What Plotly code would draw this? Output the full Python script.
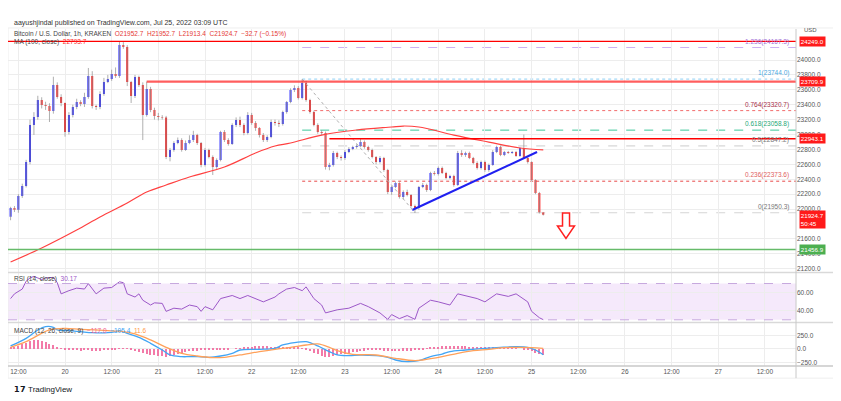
import pandas as pd
import plotly.graph_objects as go
from plotly.subplots import make_subplots

# BTC/USD 1h KRAKEN, first candle Jul 19 2022 10:00 UTC
START = pd.Timestamp('2022-07-19 10:00')
X_RANGE = ['2022-07-19 09:20', '2022-07-27 20:00']

opens = [21897, 22014, 21990, 22175, 22309, 22631, 23128, 23235, 23463, 23396,
         23383, 23316, 23665, 23503, 23423, 23034, 23262, 23369, 23436, 23410,
         23503, 23785, 23383, 23369, 23544, 23705, 23745, 23812, 23785, 24201,
         24174, 23705, 23517, 23772, 23665, 23262, 23611, 23329, 23248, 23235,
         23228, 22698, 22792, 22886, 22926, 22792, 22886, 22926, 22993, 22886,
         22591, 22792, 22698, 22564, 22658, 23034, 22926, 22873, 23128, 23195,
         23128, 23020, 23262, 23155, 23087, 22993, 22926, 22967, 23168, 23155,
         23141, 23302, 23436, 23597, 23624, 23490, 23692, 23463, 23302, 23128,
         23034, 23020, 22564, 22591, 22752, 22698, 22685, 22765, 22806, 22832,
         22846, 22899, 22832, 22792, 22698, 22631, 22685, 22524, 22228, 22295,
         22349, 22161, 22228, 22188, 22041, 22014, 22295, 22322, 22255, 22483,
         22470, 22550, 22483, 22416, 22443, 22322, 22752, 22725, 22752, 22685,
         22618, 22550, 22631, 22524, 22591, 22765, 22832, 22725, 22765, 22752,
         22765, 22712, 22819, 22685, 22631, 22389, 22215, 21952.7]
highs = [22030, 22040, 22200, 22340, 22660, 23200, 23300, 23520, 23500, 23440,
         23420, 23776, 23700, 23540, 23430, 23300, 23400, 23480, 23460, 23560,
         23893, 23850, 23400, 23580, 23760, 23800, 23870, 23900, 24249, 24240,
         24200, 23720, 23800, 23790, 23700, 23710, 23640, 23360, 23290, 23260,
         23250, 22820, 22910, 22960, 22950, 22920, 22990, 23050, 23010, 22900,
         22820, 22810, 22720, 22680, 23050, 23060, 22950, 23150, 23230, 23240,
         23150, 23300, 23290, 23180, 23100, 23020, 22990, 23200, 23200, 23190,
         23320, 23450, 23620, 23660, 23650, 23744, 23720, 23480, 23320, 23150,
         23060, 23040, 22620, 22780, 22770, 22720, 22790, 22830, 22850, 22870,
         22943, 22920, 22850, 22810, 22710, 22710, 22700, 22540, 22310, 22370,
         22360, 22250, 22260, 22200, 22060, 22310, 22350, 22340, 22500, 22510,
         22570, 22570, 22500, 22460, 22460, 22780, 22790, 22770, 22770, 22700,
         22640, 22650, 22650, 22610, 22790, 22850, 22850, 22780, 22780, 22780,
         22780, 22830, 23000, 22700, 22640, 22400, 22230, 21952.7]
lows = [21850, 21960, 21950, 22150, 22290, 22600, 22994, 23200, 23350, 23330,
        23168, 23280, 23480, 23380, 22971, 23000, 23230, 23340, 23380, 23370,
        23480, 23350, 23330, 23340, 23520, 23690, 23720, 23760, 23760, 24150,
        23650, 23423, 23490, 23640, 22926, 23240, 23300, 23200, 23190, 23200,
        22670, 22640, 22770, 22870, 22770, 22780, 22870, 22900, 22860, 22560,
        22570, 22680, 22457, 22540, 22640, 22900, 22850, 22860, 23100, 23100,
        22990, 23000, 23130, 23050, 22960, 22900, 22900, 22950, 23120, 23100,
        23120, 23280, 23420, 23570, 23470, 23470, 23440, 23280, 23110, 23010,
        22990, 22530, 22520, 22570, 22670, 22650, 22660, 22750, 22790, 22810,
        22830, 22810, 22770, 22680, 22600, 22610, 22500, 22200, 22190, 22280,
        22140, 22130, 22170, 22020, 21950, 21990, 22280, 22230, 22240, 22450,
        22450, 22470, 22400, 22400, 22300, 22310, 22700, 22700, 22670, 22600,
        22530, 22530, 22500, 22500, 22580, 22750, 22710, 22710, 22740, 22740,
        22700, 22700, 22670, 22610, 22370, 22200, 21940, 21913.4]
closes = [22014, 21990, 22175, 22309, 22631, 23128, 23235, 23463, 23396, 23383,
          23316, 23665, 23503, 23423, 23034, 23262, 23369, 23436, 23410, 23503,
          23785, 23383, 23369, 23544, 23705, 23745, 23812, 23785, 24201, 24174,
          23705, 23517, 23772, 23665, 23262, 23611, 23329, 23248, 23235, 23228,
          22698, 22792, 22886, 22926, 22792, 22886, 22926, 22993, 22886, 22591,
          22792, 22698, 22564, 22658, 23034, 22926, 22873, 23128, 23195, 23128,
          23020, 23262, 23155, 23087, 22993, 22926, 22967, 23168, 23155, 23141,
          23302, 23436, 23597, 23624, 23490, 23692, 23463, 23302, 23128, 23034,
          23020, 22564, 22591, 22752, 22698, 22685, 22765, 22806, 22832, 22846,
          22899, 22832, 22792, 22698, 22631, 22685, 22524, 22228, 22295, 22349,
          22161, 22228, 22188, 22041, 22014, 22295, 22322, 22255, 22483, 22470,
          22550, 22483, 22416, 22443, 22322, 22752, 22725, 22752, 22685, 22618,
          22550, 22631, 22524, 22591, 22765, 22832, 22725, 22765, 22752, 22765,
          22712, 22819, 22685, 22631, 22389, 22215, 21957.4, 21924.7]

# MA(100), hour offset -> value
ma_hours = [0, 8, 17, 23, 30, 35, 40, 46, 55, 63, 68, 72, 80, 89, 98, 101, 105, 114, 123, 131, 137]
ma_values = [21289, 21477, 21718, 21893, 22081, 22228, 22322, 22430, 22564, 22752, 22846,
             22886, 22993, 23061, 23101, 23114, 23101, 22993, 22899, 22819, 22794]

rsi_hours = [0, 1, 3, 4, 5, 6, 7, 8, 9, 10, 11, 12, 13, 15, 17, 19, 20, 22, 24, 26, 28, 29,
             30, 32, 33, 34, 36, 37, 39, 40, 42, 44, 46, 48, 49, 50, 52, 54, 57, 59, 61, 65,
             68, 69, 71, 73, 75, 76, 78, 80, 81, 84, 87, 90, 92, 95, 97, 98, 100, 102, 104,
             105, 108, 110, 113, 115, 117, 120, 122, 125, 128, 130, 133, 134, 136, 137]
rsi_values = [53.4, 58.6, 63.9, 72.6, 76.1, 77.9, 76.1, 74.4, 76.1, 76.1, 76.8, 70.9, 58.6,
              62.1, 64.9, 63.9, 69.9, 58.6, 64.9, 65.6, 71.9, 70.9, 58.6, 55.1, 58.6, 51.6,
              46.3, 48.7, 48.1, 39.3, 42.8, 41.8, 46.3, 44.5, 39.3, 44.5, 41.0, 53.4, 56.8,
              53.4, 56.8, 49.8, 55.1, 58.6, 63.9, 65.6, 62.1, 66.3, 53.4, 46.3, 37.6, 41.0,
              42.8, 48.1, 44.5, 37.6, 30.5, 35.8, 31.3, 34.7, 30.5, 42.8, 51.6, 49.8, 46.3,
              58.6, 56.8, 53.4, 49.8, 58.6, 55.8, 58.6, 49.8, 39.3, 32.3, 30.17]

macd_hours = [0, 4, 7, 9, 11, 12, 15, 18, 21, 25, 27, 28, 30, 33, 36, 39, 41, 44, 46, 48, 51,
              54, 57, 59, 64, 68, 70, 73, 76, 77, 79, 82, 84, 87, 90, 94, 97, 99, 102, 105,
              108, 111, 113, 117, 122, 126, 130, 133, 135, 137]
macd_values = [56, 197, 352, 413, 401, 352, 340, 321, 302, 302, 321, 340, 290, 216, 105, -19,
               -111, -142, -142, -142, -154, -130, -80, -19, -6, 12, 74, 117, 136, 117, 56,
               -49, -111, -123, -111, -123, -154, -204, -235, -216, -142, -93, -49, -19, 12,
               31, 43, 31, -19, -105.4]
signal_hours = [0, 4, 10, 14, 18, 25, 29, 32, 36, 40, 44, 48, 52, 55, 59, 64, 68, 72, 76, 79,
                82, 84, 88, 94, 99, 104, 106, 111, 115, 119, 123, 127, 131, 134, 137]
signal_values = [31, 136, 352, 383, 364, 340, 321, 278, 167, 31, -80, -130, -160, -154, -111,
                 -49, -6, 31, 74, 93, 31, -31, -99, -111, -173, -216, -204, -142, -80, -31, -6,
                 25, 31, 25, 11.6]
hist_values = [20, 40, 60, 90, 120, 145, 165, 160, 150, 130, 100, 70, 40, 15, -5, -15,
               -20, -25, -30, -25, -20, -30, -35, -30, -25, -20, -15, -5, 10, 15, 5,
               -20, -40, -60, -80, -95, -110, -120, -130, -135, -140, -130, -115, -95, -75,
               -60, -45, -35, -30, -25, -25, -20, -20, -15, -10, -10, -5, 0,
               10, 15, 25, 35, 45, 55, 60, 55, 50, 45, 40, 40, 35, 30, 30, 25, 20, 10,
               -10, -40, -70, -100, -125, -140, -140, -130, -115, -100, -85, -70, -60, -50,
               -40, -30, -25,
               -20, -20, -25, -30, -35, -40, -40, -40, -35, -35, -30, -25, -15, -5,
               10, 25, 35, 45, 50, 55, 60, 60, 55, 55, 50, 45, 40, 35, 30, 25,
               20, 20, 15, 15, 10, 10, 5, 5, 0,
               -10, -25, -45, -65, -90, -117]

# fib retracement drawn from the Jul 22 high to the Jul 23 low
fib_start_hour = 75
fib_ratios = ['1.236', '1', '0.764', '0.618', '0.5', '0.236', '0']
fib_prices = [24167.3, 23744.0, 23320.7, 23058.8, 22847.2, 22373.6, 21950.3]
fib_colors = ['#cdb0f2', '#8fd0f5', '#f26b6b', '#3cc79a', '#cccccc', '#e84848', '#d6d6d6']
fib_text_colors = ['#a070d8', '#4aa8e0', '#a8304a', '#1fa878', '#777777', '#e06060', '#777777']
fib_dash = ['dash', 'dot', 'dot', 'dash', 'dash', 'dot', 'dash']

# horizontal levels (price, start hour or None for full width, colour)
level_prices = [24249.0, 23709.9, 22943.1, 21456.9]
level_starts = [None, 35, 82, None]
level_colors = ['#ff0000', 'rgba(255,40,40,0.75)', '#ff0000', '#66bb6a']
level_widths = [1.3, 2.2, 1.5, 1.3]

# price-scale ticks (those hidden behind tags left out)
price_ticks = [24000, 23800, 23600, 23400, 23200, 23000, 22800, 22600, 22400, 22200,
               22000, 21600, 21400, 21200]

trend_hours = [103.3, 135.4]
trend_prices = [21987, 22765]
diag_hours = [75, 104]
diag_prices = [23744.0, 21950.3]

last_price = 21924.7
countdown = '50:45'


def at(h):
    return START + pd.to_timedelta(h, unit='h')


times = pd.date_range(START, periods=len(closes), freq='h')
x_end = pd.Timestamp(X_RANGE[1])
FONT = 'Liberation Sans'
GRID = '#ededed'

fig = make_subplots(rows=3, cols=1, shared_xaxes=True, vertical_spacing=0.004)

# wicks in grey, bodies on top
wx, wy = [], []
for t, lo, hi in zip(times, lows, highs):
    wx += [t, t, None]
    wy += [lo, hi, None]
fig.add_trace(go.Scatter(x=wx, y=wy, mode='lines', line=dict(color='#9a9a9a', width=0.8),
                         hoverinfo='skip', showlegend=False), row=1, col=1)
fig.add_trace(go.Candlestick(
    x=times, open=opens, high=highs, low=lows, close=closes,
    increasing=dict(fillcolor='#1414ff', line=dict(color='#1414ff', width=0)),
    decreasing=dict(fillcolor='#ff0a0a', line=dict(color='#ff0a0a', width=0)),
    whiskerwidth=0, showlegend=False), row=1, col=1)

fig.add_trace(go.Scatter(x=[at(h) for h in ma_hours], y=ma_values, mode='lines',
                         line=dict(color='#ff4040', width=1.2, shape='spline'),
                         showlegend=False), row=1, col=1)

fig.add_trace(go.Scatter(x=[at(h) for h in trend_hours], y=trend_prices, mode='lines',
                         line=dict(color='#2020f0', width=2), showlegend=False), row=1, col=1)
fig.add_trace(go.Scatter(x=[at(h) for h in diag_hours], y=diag_prices, mode='lines',
                         line=dict(color='#b0b0b0', width=1, dash='dot'), showlegend=False),
              row=1, col=1)

shapes = []
annotations = []

for p, s, c, w in zip(level_prices, level_starts, level_colors, level_widths):
    x0 = X_RANGE[0] if s is None else at(s)
    shapes.append(dict(type='line', xref='x', yref='y', x0=x0, x1=x_end, y0=p, y1=p,
                       line=dict(color=c, width=w), layer='above'))

for r, p, c, tc, d in zip(fib_ratios, fib_prices, fib_colors, fib_text_colors, fib_dash):
    shapes.append(dict(type='line', xref='x', yref='y', x0=at(fib_start_hour), x1=x_end,
                       y0=p, y1=p, line=dict(color=c, width=1, dash=d), layer='below'))
    annotations.append(dict(xref='x', yref='y', x=x_end - pd.Timedelta(hours=1.2), y=p,
                            xanchor='right', yanchor='bottom', showarrow=False,
                            text=f'{r}({p:.1f})', font=dict(size=6.5, color=tc, family=FONT)))

# RSI band
shapes.append(dict(type='rect', xref='x2 domain', yref='y2', x0=0, x1=1, y0=30, y1=70,
                   fillcolor='rgba(190,120,230,0.16)', line=dict(width=0), layer='below'))
for v in (30, 70):
    shapes.append(dict(type='line', xref='x2 domain', yref='y2', x0=0, x1=1, y0=v, y1=v,
                       line=dict(color='#c7a8de', width=1, dash='dash')))

# pane separators, price-scale border and outer frame
for yy in (0.2775, 0.129):
    shapes.append(dict(type='line', xref='paper', yref='paper', x0=0, x1=1.053, y0=yy, y1=yy,
                       line=dict(color='#d9d9d9', width=1.5)))
shapes.append(dict(type='line', xref='paper', yref='paper', x0=1, x1=1, y0=-0.036, y1=1,
                   line=dict(color='#c8c8c8', width=1)))
shapes.append(dict(type='line', xref='paper', yref='paper', x0=0, x1=1.053, y0=0, y1=0,
                   line=dict(color='#c8c8c8', width=1.5)))
shapes.append(dict(type='rect', xref='paper', yref='paper', x0=0, x1=1.053, y0=-0.036,
                   y1=1.003, line=dict(color='#eeeeee', width=1), layer='below'))

# red "down" arrow
shapes.append(dict(type='path', xref='paper', yref='paper',
                   path='M 0.7037 0.4540 L 0.7126 0.4540 L 0.7126 0.4154 L 0.7189 0.4154 '
                        'L 0.7081 0.3783 L 0.6973 0.4154 L 0.7037 0.4154 Z',
                   fillcolor='white', line=dict(color='#ff2020', width=1.5)))

# price-scale tags
tags = [(24249.0, '24249.0', '#ff1a1a'), (23709.9, '23709.9', '#ff1a1a'),
        (22943.1, '22943.1', '#ff1a1a'), (level_prices[3], '21456.9', '#4caf50')]
for p, txt, bg in tags:
    annotations.append(dict(xref='paper', yref='y', x=1.004, y=p, xanchor='left',
                            yanchor='middle', showarrow=False, text=txt,
                            bgcolor=bg, borderpad=0.8,
                            font=dict(size=6.2, color='white', family=FONT)))
# last price tag: first line centred on the price, countdown below
annotations.append(dict(xref='paper', yref='y', x=1.004, y=last_price + 60, xanchor='left',
                        yanchor='top', showarrow=False, align='left',
                        text=f'{last_price:.1f}<br>{countdown}', bgcolor='#ff1a1a',
                        borderpad=0.8, font=dict(size=6.2, color='white', family=FONT)))
annotations.append(dict(xref='paper', yref='paper', x=1.008, y=0.996, xanchor='left',
                        yanchor='middle', showarrow=False, text='USD',
                        font=dict(size=6, color='#555', family=FONT)))

# header and pane legends
annotations += [
    dict(xref='paper', yref='paper', x=0.005, y=1.018, xanchor='left', yanchor='middle',
         showarrow=False, font=dict(size=7, color='#333', family=FONT),
         text='aayushjindal published on TradingView.com, Jul 25, 2022 03:09 UTC'),
    dict(xref='paper', yref='paper', x=0.005, y=0.985, xanchor='left', yanchor='middle',
         showarrow=False, font=dict(size=6.5, color='#444', family=FONT),
         text='Bitcoin / U.S. Dollar, 1h, KRAKEN  <span style="color:#e53935">O21952.7  H21952.7  '
              'L21913.4  C21924.7  −32.7 (−0.15%)</span>'),
    dict(xref='paper', yref='paper', x=0.005, y=0.961, xanchor='left', yanchor='middle',
         showarrow=False, font=dict(size=6.5, color='#444', family=FONT),
         text='MA (100, close)  <span style="color:#ff2a2a">22793.7</span>'),
    dict(xref='paper', yref='paper', x=0.005, y=0.258, xanchor='left', yanchor='middle',
         showarrow=False, font=dict(size=6.5, color='#444', family=FONT),
         text='RSI (14, close)  <span style="color:#9c58c8">30.17</span>'),
    dict(xref='paper', yref='paper', x=0.005, y=0.104, xanchor='left', yanchor='middle',
         showarrow=False, font=dict(size=6.5, color='#444', family=FONT),
         text='MACD (12, 26, close, 9)  <span style="color:#f06292">−117.0</span>  '
              '<span style="color:#42a5f5">−105.4</span>  <span style="color:#ff9a4a">11.6</span>'),
    dict(xref='paper', yref='paper', x=0.005, y=-0.07, xanchor='left', yanchor='middle',
         showarrow=False, font=dict(size=8, color='#131722', family=FONT),
         text='<b>𝟭𝟳</b> TradingView'),
]

fig.add_trace(go.Scatter(x=[at(h) for h in rsi_hours], y=rsi_values, mode='lines',
                         line=dict(color='#9c58c8', width=1), showlegend=False), row=2, col=1)

fig.add_trace(go.Bar(x=times, y=hist_values, marker=dict(color='#f27aa8', line=dict(width=0)),
                     width=0.3 * 3600 * 1000, showlegend=False), row=3, col=1)
fig.add_trace(go.Scatter(x=[at(h) for h in macd_hours], y=macd_values, mode='lines',
                         line=dict(color='#42a5f5', width=1.3, shape='spline'),
                         showlegend=False), row=3, col=1)
fig.add_trace(go.Scatter(x=[at(h) for h in signal_hours], y=signal_values, mode='lines',
                         line=dict(color='#ffa15a', width=1.3, shape='spline'),
                         showlegend=False), row=3, col=1)

tick_vals = pd.date_range('2022-07-19 12:00', '2022-07-27 12:00', freq='12h')
tick_text = ['12:00' if t.hour == 12 else str(t.day) for t in tick_vals]

fig.update_xaxes(range=X_RANGE, tickvals=tick_vals, ticktext=tick_text, showgrid=True,
                 gridcolor=GRID, zeroline=False, showline=False, ticks='',
                 rangeslider_visible=False,
                 tickfont=dict(size=6.5, color='#555', family=FONT))
fig.update_xaxes(showticklabels=False, row=1, col=1)
fig.update_xaxes(showticklabels=False, row=2, col=1)

axis_font = dict(size=6.5, color='#555', family=FONT)
# the page body keeps an 8px margin, so the figure is 8px smaller and the
# top/left margins are trimmed to keep the plot area where the screenshot has it
fig.update_layout(
    width=833, height=393,
    margin=dict(l=0, r=45, t=21, b=35),
    paper_bgcolor='white', plot_bgcolor='white',
    showlegend=False, bargap=0,
    shapes=shapes, annotations=annotations,
    yaxis=dict(domain=[0.2789, 1], range=[21155, 24416], side='right',
               tickvals=price_ticks, tickformat='.1f', showgrid=True, gridcolor=GRID,
               zeroline=False, ticks='', tickfont=axis_font),
    yaxis2=dict(domain=[0.1306, 0.276], range=[27.6, 81.6], side='right',
                tickvals=[40, 60], ticktext=['40.00', '60.00'], showgrid=True,
                gridcolor=GRID, zeroline=False, ticks='', tickfont=axis_font),
    yaxis3=dict(domain=[0, 0.1276], range=[-315, 481], side='right',
                tickvals=[-250, 0, 250], ticktext=['−250.0', '0.0', '250.0'], showgrid=True,
                gridcolor=GRID, zeroline=False, ticks='', tickfont=axis_font),
)

fig.write_html("out.html")
